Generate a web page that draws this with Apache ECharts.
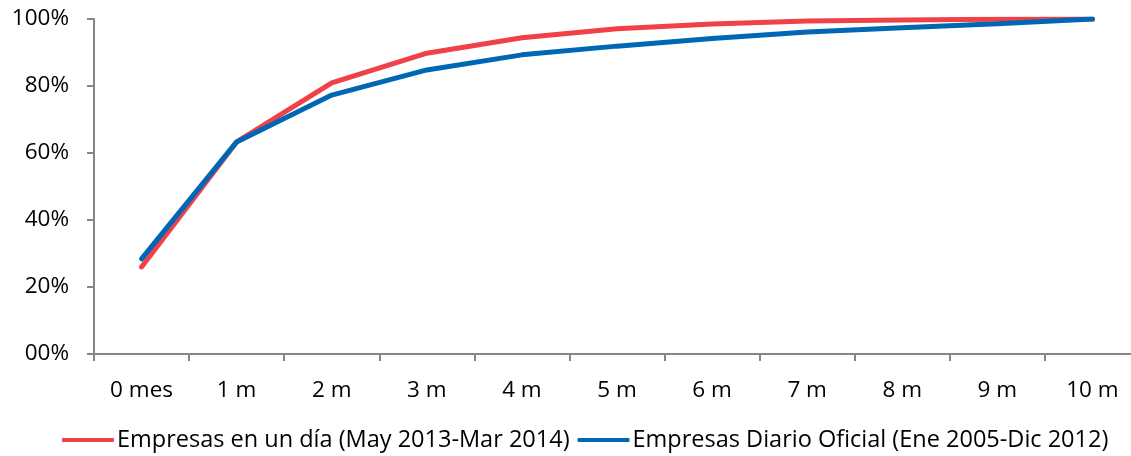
<!DOCTYPE html>
<html>
<head>
<meta charset="utf-8">
<script src="https://cdn.jsdelivr.net/npm/echarts@6/dist/echarts.min.js"></script>
<style>html,body{margin:0;padding:0;background:#fff}#c{width:1131px;height:456px}</style>
</head>
<body>
<div id="c"></div>
<script>
const categories = ['0 mes','1 m','2 m','3 m','4 m','5 m','6 m','7 m','8 m','9 m','10 m'];
const seriesNames = ['Empresas en un día (May 2013-Mar 2014)','Empresas Diario Oficial (Ene 2005-Dic 2012)'];
const redValues = [26.0, 63.3, 80.9, 89.8, 94.4, 97.1, 98.5, 99.4, 99.7, 99.9, 100];
const blueValues = [28.4, 63.3, 77.3, 84.8, 89.3, 91.9, 94.2, 96.1, 97.4, 98.6, 100];
const yTickLabels = {0:'00%',20:'20%',40:'40%',60:'60%',80:'80%',100:'100%'};

const chart = echarts.init(document.getElementById('c'));
const font = 'Open Sans';
chart.setOption({
  animation:false,
  grid:{left:94,width:1046,top:19,bottom:102,containLabel:false,outerBoundsMode:'none'},
  legend:{
    top:423, left:57, itemWidth:52, itemHeight:4, itemGap:8,
    textStyle:{fontFamily:font,fontSize:23.5,color:'#000',padding:[0,0,0,-2]},
    data:[{name:seriesNames[0],icon:'roundRect'},{name:seriesNames[1],icon:'roundRect'}]
  },
  xAxis:{
    type:'category', data:categories, boundaryGap:true,
    axisLine:{lineStyle:{color:'#868686',width:2}},
    axisTick:{show:true,length:7,lineStyle:{color:'#868686',width:2}},
    axisLabel:{fontFamily:font,fontSize:22.5,color:'#000',margin:25}
  },
  yAxis:{
    type:'value', min:0, max:100, interval:20,
    splitLine:{show:false},
    axisLine:{show:true,lineStyle:{color:'#868686',width:2}},
    axisTick:{show:true,length:7,lineStyle:{color:'#868686',width:2}},
    axisLabel:{fontFamily:font,fontSize:22.5,color:'#000',margin:25,formatter:v=>yTickLabels[v]}
  },
  series:[
    {name:seriesNames[0],type:'line',data:redValues,symbol:'none',lineStyle:{color:'#EF4147',width:5,cap:'round'},itemStyle:{color:'#EF4147'}},
    {name:seriesNames[1],type:'line',data:blueValues,symbol:'none',lineStyle:{color:'#0067B4',width:5,cap:'round'},itemStyle:{color:'#0067B4'}}
  ]
});
</script>
</body>
</html>
